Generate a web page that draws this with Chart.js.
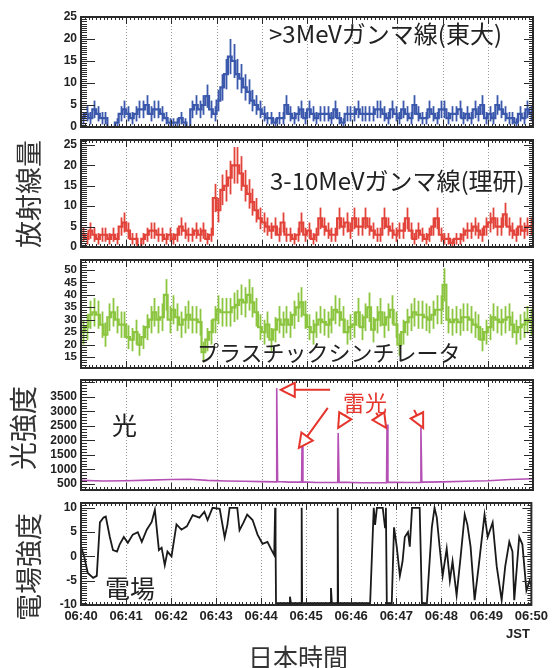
<!DOCTYPE html>
<html>
<head>
<meta charset="utf-8">
<script src="https://cdn.jsdelivr.net/npm/chart.js@4.4.0/dist/chart.umd.min.js"></script>
<style>
  body { margin: 0; background: #fff; }
  #wrap { position: relative; width: 552px; height: 668px; overflow: hidden;
          font-family: "Noto Sans CJK JP", "Noto Sans", sans-serif; color: #222; }
  canvas { position: absolute; left: 0; }
  .txt { position: absolute; white-space: nowrap; line-height: 1; transform: translateY(-50%); }
  .vt { position: absolute; white-space: nowrap; line-height: 1; color: #333;
        transform: translate(-50%, -50%) rotate(-90deg); }
</style>
</head>
<body>
<div id="wrap">
  <canvas id="p1"></canvas>
  <canvas id="p2"></canvas>
  <canvas id="p3"></canvas>
  <canvas id="p4"></canvas>
  <canvas id="p5"></canvas>

  <div class="txt" style="left:269px;top:33px;font-size:24px;">&gt;3MeVガンマ線(東大)</div>
  <div class="txt" style="left:270px;top:180px;font-size:24px;">3-10MeVガンマ線(理研)</div>
  <div class="txt" style="left:197px;top:351px;font-size:22px;">プラスチックシンチレータ</div>
  <div class="txt" style="left:112px;top:424px;font-size:25px;">光</div>
  <div class="txt" style="left:343px;top:401px;font-size:22px;color:#e5352c;">雷光</div>
  <div class="txt" style="left:105px;top:587px;font-size:25px;">電場</div>

  <div class="vt" style="left:27px;top:194px;font-size:27px;">放射線量</div>
  <div class="vt" style="left:22px;top:428px;font-size:28px;">光強度</div>
  <div class="vt" style="left:27px;top:567px;font-size:27px;">電場強度</div>

  <div class="txt" style="left:506px;top:633px;font:bold 13px 'Liberation Sans',Arial,sans-serif;">JST</div>
  <div class="txt" style="left:248px;top:656px;font-size:25px;color:#333;">日本時間</div>
</div>

<script>
// 横軸：06:40 からの経過分（0〜10）
const timeLabels = ['06:40', '06:41', '06:42', '06:43', '06:44', '06:45',
                    '06:46', '06:47', '06:48', '06:49', '06:50'];
const BIN = 5 / 60; // 5秒ビン

// 縦軸の目盛りラベル
const gammaTicks = [0, 5, 10, 15, 20, 25];
const plasticTicks = [15, 20, 25, 30, 35, 40, 45, 50];
const lightTicks = [500, 1000, 1500, 2000, 2500, 3000, 3500];
const fieldTicks = [-10, -5, 0, 5, 10];

// >3MeV ガンマ線（東大） 120ビン
const gammaTokyo = [
  2, 3, 2, 4, 3, 2, 2, 0, 0, 1, 3, 4,
  3, 2, 3, 4, 4, 5, 3, 4, 4, 3, 2, 1,
  1, 1, 2, 1, 0, 4, 5, 4, 5, 7, 4, 3,
  6, 9, 12, 16, 15, 12, 11, 9, 8, 6, 5, 4,
  3, 2, 2, 1, 2, 2, 5, 3, 2, 3, 4, 2,
  4, 3, 2, 3, 3, 3, 2, 4, 2, 1, 3, 3,
  3, 4, 3, 3, 3, 3, 4, 4, 3, 2, 4, 3,
  2, 4, 3, 2, 5, 3, 2, 2, 4, 3, 2, 4,
  4, 2, 3, 3, 4, 2, 3, 2, 4, 3, 5, 2,
  3, 2, 5, 4, 3, 2, 2, 1, 3, 2, 4, 3
];

// 3-10MeV ガンマ線（理研） 120ビン
const gammaRiken = [
  3, 2, 4, 3, 2, 3, 3, 2, 3, 2, 5, 6,
  4, 2, 2, 0, 2, 3, 4, 4, 3, 3, 2, 3,
  2, 3, 5, 4, 3, 3, 4, 3, 4, 2, 3, 12,
  9, 14, 15, 17, 20, 20, 18, 15, 13, 11, 9, 7,
  6, 5, 4, 5, 3, 6, 3, 3, 2, 3, 6, 3,
  4, 2, 3, 7, 5, 4, 3, 3, 7, 5, 6, 4,
  7, 5, 5, 7, 5, 4, 3, 3, 7, 5, 4, 3,
  4, 4, 7, 4, 2, 4, 3, 2, 3, 5, 7, 3,
  2, 2, 1, 2, 2, 3, 4, 4, 5, 4, 3, 5,
  6, 7, 5, 5, 8, 5, 4, 3, 5, 4, 5, 5
];

// プラスチックシンチレータ 120ビン
const plastic = [
  25, 27, 32, 33, 32, 28, 24, 31, 33, 30, 28, 28,
  23, 22, 25, 20, 23, 27, 30, 33, 30, 31, 40, 30,
  34, 31, 28, 30, 32, 30, 30, 29, 17, 22, 25, 30,
  34, 33, 33, 33, 35, 36, 38, 37, 40, 37, 33, 27,
  25, 28, 22, 26, 30, 28, 30, 28, 32, 35, 37, 32,
  27, 25, 28, 30, 29, 28, 30, 34, 33, 30, 25, 27,
  28, 33, 27, 31, 35, 26, 30, 33, 28, 31, 34, 28,
  20, 25, 29, 31, 33, 32, 32, 31, 30, 32, 34, 34,
  44, 30, 29, 30, 29, 31, 31, 30, 28, 27, 22, 25,
  27, 31, 30, 29, 30, 31, 28, 25, 27, 28, 30, 29
];

// 光強度
const lightT = [0, 0.5, 1.0, 1.5, 2.0, 2.4, 2.8, 3.2, 3.6, 4.0, 4.32, 4.33, 4.35,
                4.6, 4.88, 4.89, 4.91, 5.2, 5.68, 5.69, 5.71, 6.2, 6.76, 6.77, 6.79,
                7.2, 7.51, 7.52, 7.54, 8.0, 8.5, 9.0, 9.5, 10];
const lightV = [620, 600, 610, 630, 650, 660, 620, 600, 590, 580, 570, 3800, 580,
                560, 560, 1800, 570, 550, 550, 2250, 560, 540, 540, 2550, 560,
                550, 550, 2450, 560, 570, 590, 610, 650, 680];

// 雷光の矢印（尾と先端、データ座標）
const arrowTail = [[5.51, 3740], [5.46, 3120], [5.86, 2880], [6.53, 2950], [7.37, 3050]];
const arrowTip  = [[4.42, 3740], [4.82, 1740], [5.69, 2430], [6.75, 2430], [7.57, 2430]];

// 電場
const fieldT = [0, 0.07, 0.15, 0.27, 0.35, 0.42, 0.5, 0.55, 0.64, 0.71, 0.8, 0.86, 0.95,
  1.04, 1.15, 1.26, 1.35, 1.46, 1.57, 1.64, 1.73, 1.79, 1.86, 1.92, 2.01, 2.12, 2.23,
  2.35, 2.48, 2.63, 2.74, 2.81, 2.92, 3.08, 3.19, 3.25, 3.3, 3.47, 3.52, 3.61, 3.69,
  3.81, 3.92, 4.03, 4.14, 4.22, 4.29, 4.31, 4.32, 4.33, 4.62, 4.64, 4.66, 4.89, 4.9,
  4.91, 5.53, 5.55, 5.57, 5.69, 5.7, 5.71, 6.42, 6.5, 6.53, 6.57, 6.7, 6.75, 6.77,
  6.79, 6.9, 6.95, 7.01, 7.08, 7.14, 7.19, 7.26, 7.3, 7.35, 7.52, 7.57, 7.68, 7.79,
  7.85, 7.9, 7.96, 8.03, 8.12, 8.19, 8.25, 8.34, 8.43, 8.52, 8.58, 8.65, 8.74, 8.83,
  8.96, 9.03, 9.14, 9.23, 9.34, 9.42, 9.51, 9.58, 9.62, 9.73, 9.8, 9.89, 9.96, 10];
const fieldV = [2, 0, -3.4, -4.4, -4, 7, 8, 8.2, 4, 1.3, 1, 2.5, 4,
  2.8, 4.5, 5, 3, 5.5, 7.1, 9.6, 1.3, 1.8, -1.8, 1, 0, 6.6, 5.5,
  6.2, 8.5, 8, 9.2, 7.5, 10, 9.8, 3.9, 6.5, 10, 10, 5.4, 7, 8.6,
  7.5, 4.5, 2.6, 3, 1.5, 0.3, 10, 3, -9.6, -9.6, -8.3, -9.6, -9.6, 10,
  -9.6, -9.6, -6.5, -9.6, -9.6, 10, -9.6, -9.6, 10, 6.5, 10, 10, 6, 10,
  -9.6, -9.6, 6, 2, -4, -1, 4, 5, 2, 10, 10, -9.6, -9.6, 6,
  10, 8, 2.2, -4, 1.6, -5, -1, -8, 0, 8.6, 6.5, 2, -9, -2,
  8.6, 4, 7, -2, -9, -2, 3, 1, -9, 4, 2.5, -7, -5, -6];

// ヒストグラム用の点（ビン左端＋右端の終点）
function histPoints(bins) {
  const pts = bins.map((v, i) => ({ x: i * BIN, y: v }));
  pts.push({ x: 10, y: bins[bins.length - 1] });
  return pts;
}
function linePoints(ts, vs) {
  return ts.map((t, i) => ({ x: t, y: vs[i] }));
}

const tickFont = { family: "'Liberation Sans', Arial, sans-serif", weight: 'bold', size: 12 };
const PAD = 12; // キャンバス上下の余白

// 枠・内向き目盛り・分ごとの点線
const framePlugin = {
  id: 'frame',
  beforeDatasetsDraw(chart) {
    const { ctx, chartArea: a, scales: { x } } = chart;
    ctx.save();
    ctx.strokeStyle = '#9a9a9a';
    ctx.lineWidth = 1;
    ctx.setLineDash([1, 2]);
    for (let m = 1; m < 10; m++) {
      const px = Math.round(x.getPixelForValue(m)) + 0.5;
      ctx.beginPath();
      ctx.moveTo(px, a.top);
      ctx.lineTo(px, a.bottom);
      ctx.stroke();
    }
    ctx.restore();
  },
  afterDraw(chart, args, opts) {
    const { ctx, chartArea: a, scales: { x, y } } = chart;
    ctx.save();
    ctx.strokeStyle = '#2a2a2a';
    ctx.lineWidth = 1;
    const n0 = Math.ceil(y.min / opts.yMinor - 1e-6);
    const n1 = Math.floor(y.max / opts.yMinor + 1e-6);
    const ratio = Math.round(opts.yMajor / opts.yMinor);
    for (let n = n0; n <= n1; n++) {
      const major = n % ratio === 0;
      const py = Math.round(y.getPixelForValue(n * opts.yMinor)) + 0.5;
      ctx.beginPath();
      ctx.moveTo(a.left, py); ctx.lineTo(a.left + (major ? 14 : 6), py);
      ctx.moveTo(a.right, py); ctx.lineTo(a.right - (major ? 9 : 4), py);
      ctx.stroke();
    }
    for (let i = 0; i <= 120; i++) {
      const major = i % 12 === 0;
      const px = Math.round(x.getPixelForValue(i * BIN)) + 0.5;
      ctx.beginPath();
      ctx.moveTo(px, a.top); ctx.lineTo(px, a.top + (major ? 7 : 3));
      ctx.moveTo(px, a.bottom); ctx.lineTo(px, a.bottom - (major ? 7 : 3));
      ctx.stroke();
    }
    ctx.lineWidth = 2;
    ctx.strokeRect(a.left, a.top, a.right - a.left, a.bottom - a.top);
    ctx.restore();
  }
};

// 誤差棒（√N）
const errorBarPlugin = {
  id: 'errbars',
  afterDatasetsDraw(chart) {
    const { ctx, chartArea: a, scales: { x, y } } = chart;
    chart.data.datasets.forEach(ds => {
      if (!ds.bins) return;
      ctx.save();
      ctx.beginPath();
      ctx.rect(a.left, a.top, a.right - a.left, a.bottom - a.top);
      ctx.clip();
      ctx.strokeStyle = ds.borderColor;
      ctx.lineWidth = 1.8;
      ds.bins.forEach((v, i) => {
        const e = Math.sqrt(v);
        if (e === 0) return;
        const px = Math.round(x.getPixelForValue((i + 0.5) * BIN)) + 0.5;
        ctx.beginPath();
        ctx.moveTo(px, y.getPixelForValue(v - e));
        ctx.lineTo(px, y.getPixelForValue(v + e));
        ctx.stroke();
      });
      ctx.restore();
    });
  }
};

// 雷光の矢印
const arrowPlugin = {
  id: 'arrows',
  afterDraw(chart) {
    if (chart.canvas.id !== 'p4') return;
    const { ctx, scales: { x, y } } = chart;
    ctx.save();
    ctx.strokeStyle = '#e5352c';
    ctx.fillStyle = '#fff';
    ctx.lineWidth = 2;
    arrowTail.forEach((tail, i) => {
      const x0 = x.getPixelForValue(tail[0]), y0 = y.getPixelForValue(tail[1]);
      const x1 = x.getPixelForValue(arrowTip[i][0]), y1 = y.getPixelForValue(arrowTip[i][1]);
      const ang = Math.atan2(y1 - y0, x1 - x0);
      const hl = 14, hw = 7;
      const bx = x1 - hl * Math.cos(ang), by = y1 - hl * Math.sin(ang);
      ctx.beginPath();
      ctx.moveTo(x0, y0);
      ctx.lineTo(bx, by);
      ctx.stroke();
      ctx.beginPath();
      ctx.moveTo(x1, y1);
      ctx.lineTo(bx + hw * Math.sin(ang), by - hw * Math.cos(ang));
      ctx.lineTo(bx - hw * Math.sin(ang), by + hw * Math.cos(ang));
      ctx.closePath();
      ctx.fill();
      ctx.stroke();
    });
    ctx.restore();
  }
};

function makePanel(id, areaTop, areaH, cfg) {
  const cv = document.getElementById(id);
  const bottomExtra = cfg.showX ? 34 : PAD;
  cv.width = 552;
  cv.height = areaH + PAD + bottomExtra;
  cv.style.top = (areaTop - PAD) + 'px';
  return new Chart(cv, {
    type: 'line',
    data: { datasets: cfg.datasets },
    options: {
      responsive: false,
      animation: false,
      events: [],
      layout: { padding: { top: PAD, right: 19, bottom: cfg.showX ? 0 : PAD, left: 0 } },
      elements: { point: { radius: 0 } },
      plugins: {
        legend: { display: false },
        tooltip: { enabled: false },
        frame: { yMajor: cfg.yMajor, yMinor: cfg.yMinor }
      },
      scales: {
        x: {
          type: 'linear', min: 0, max: 10, display: !!cfg.showX,
          grid: { display: false, drawTicks: false }, border: { display: false },
          ticks: {
            autoSkip: false, maxRotation: 0, padding: 4,
            color: '#222', font: { ...tickFont, size: 13 },
            callback: v => timeLabels[v]
          },
          afterBuildTicks(s) { s.ticks = timeLabels.map((_, i) => ({ value: i })); },
          afterFit(s) { s.height = cfg.showX ? 34 : 0; }
        },
        y: {
          min: cfg.yMin, max: cfg.yMax,
          grid: { display: false, drawTicks: false }, border: { display: false },
          ticks: {
            autoSkip: false, padding: 4,
            color: '#222', font: { ...tickFont, size: cfg.tickSize || 12 },
            callback: v => String(v)
          },
          afterBuildTicks(s) { s.ticks = cfg.yTicks.map(v => ({ value: v })); },
          afterFit(s) { s.width = 81; }
        }
      }
    },
    plugins: [framePlugin, errorBarPlugin, arrowPlugin]
  });
}

function histSet(bins, color) {
  return {
    data: histPoints(bins), bins: bins, stepped: true,
    borderColor: color, borderWidth: 2.2, fill: false
  };
}

makePanel('p1', 17, 110, {
  yMin: 0, yMax: 25, yMajor: 5, yMinor: 0.5, yTicks: gammaTicks,
  datasets: [histSet(gammaTokyo, '#3b58ac')]
});
makePanel('p2', 140, 107, {
  yMin: 0, yMax: 26.2, yMajor: 5, yMinor: 0.5, yTicks: gammaTicks,
  datasets: [histSet(gammaRiken, '#e2443b')]
});
makePanel('p3', 260, 108, {
  yMin: 10.6, yMax: 54, yMajor: 5, yMinor: 1, tickSize: 11.5, yTicks: plasticTicks,
  datasets: [histSet(plastic, '#8cc540')]
});
makePanel('p4', 380, 110, {
  yMin: 290, yMax: 4080, yMajor: 500, yMinor: 100, yTicks: lightTicks,
  datasets: [{
    data: linePoints(lightT, lightV), borderColor: '#b44fb4',
    borderWidth: 1.6, fill: false, tension: 0
  }]
});
makePanel('p5', 503, 102, {
  yMin: -10, yMax: 11, yMajor: 5, yMinor: 0.5, showX: true, yTicks: fieldTicks,
  datasets: [{
    data: linePoints(fieldT, fieldV), borderColor: '#1a1a1a',
    borderWidth: 1.8, fill: false, tension: 0
  }]
});
</script>
</body>
</html>
